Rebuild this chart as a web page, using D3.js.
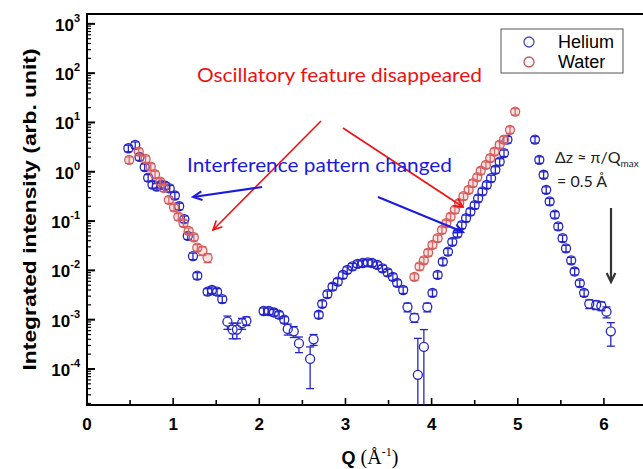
<!DOCTYPE html>
<html lang="en">
<head>
<meta charset="UTF-8">
<title>Integrated intensity vs Q</title>
<style>
  body{margin:0;background:#fff;}
  svg{display:block;}
  .lab{font-family:"Liberation Sans",Arial,sans-serif;font-weight:bold;font-size:17px;fill:#000;}
  .note{font-family:Lato,"Open Sans",sans-serif;}
</style>
</head>
<body>
<div id="chart"></div>
<script src="https://d3js.org/d3.v7.min.js"></script>
<script>
// helium (blue)
var heliumQ = [0.48,0.56,0.61,0.67,0.71,0.76,0.81,0.86,0.91,0.96,1.02,1.07,1.13,1.17,1.23,1.28,1.40,1.45,1.51,1.57,1.63,1.69,1.74,1.80,1.85,
  2.05,2.11,2.17,2.23,2.29,2.33,2.40,2.46,2.59,2.63,
  2.69,2.73,2.79,2.85,2.91,2.97,3.02,3.08,3.14,3.20,3.26,3.31,3.37,3.43,3.49,3.55,3.60,3.67,3.72,3.80,3.84,3.91,
  3.95,4.01,4.07,4.13,4.19,4.24,4.30,4.35,4.40,4.45,4.50,4.54,4.59,4.64,4.69,4.74,4.79,4.84,4.88,
  5.20,5.25,5.30,5.33,5.37,5.43,5.47,5.52,5.56,5.62,5.66,5.72,5.77,5.83,5.91,5.97,6.03,6.08];
var heliumI = [3.0,3.5,2.0,1.25,0.76,0.55,0.50,0.55,0.52,0.46,0.33,0.20,0.11,0.050,0.0195,0.0078,0.0037,0.0040,0.0037,0.0026,0.00091,0.00063,0.00063,0.00085,0.00095,
  0.0015,0.0015,0.0014,0.00126,0.0010,0.00065,0.00058,0.00033,0.00016,0.0004,
  0.00126,0.0021,0.0033,0.0047,0.0059,0.0081,0.0102,0.012,0.0135,0.0141,0.0145,0.0141,0.0129,0.011,0.0091,0.0074,0.0056,0.0040,0.0018,0.0011,0.000076,0.00028,
  0.0018,0.0035,0.0081,0.015,0.024,0.038,0.056,0.083,0.115,0.155,0.21,0.29,0.40,0.54,0.74,1.1,1.6,2.4,4.5,
  4.5,1.75,0.87,0.43,0.25,0.135,0.078,0.045,0.028,0.016,0.0095,0.0055,0.0035,0.0021,0.0020,0.0019,0.00145,0.00058];
// relative error
var heliumErr = [0.15,0.15,0.15,0.15,0.15,0.15,0.15,0.15,0.15,0.15,0.15,0.15,0.15,0.15,0.15,0.15,0.15,0.15,0.15,0.15,0.3,0.35,0.35,0.25,0.2,
  0.15,0.15,0.15,0.15,0.15,0.25,0.25,0.35,0.75,0.25,
  0.15,0.15,0.15,0.15,0.15,0.15,0.15,0.15,0.15,0.15,0.15,0.15,0.15,0.15,0.15,0.15,0.15,0.15,0.2,0.2,4.5,1.25,
  0.2,0.15,0.15,0.15,0.15,0.15,0.15,0.15,0.15,0.15,0.15,0.15,0.15,0.15,0.15,0.15,0.15,0.15,0.15,
  0.15,0.15,0.15,0.15,0.15,0.15,0.15,0.15,0.15,0.15,0.15,0.15,0.15,0.2,0.2,0.2,0.25,0.5];

// water (red)
var waterQ = [0.49,0.60,0.68,0.74,0.79,0.85,0.89,0.95,1.01,1.06,1.12,1.18,1.24,1.28,1.34,1.40,
  3.80,3.86,3.91,3.96,4.01,4.07,4.12,4.17,4.22,4.27,4.32,4.37,4.43,4.48,4.53,4.57,4.63,4.68,4.73,4.79,4.84,4.91,4.97];
var waterI = [1.74,2.57,1.82,1.27,0.89,0.63,0.47,0.27,0.19,0.123,0.091,0.063,0.047,0.029,0.025,0.018,
  0.0074,0.012,0.016,0.023,0.033,0.045,0.066,0.091,0.123,0.17,0.23,0.32,0.43,0.59,0.78,1.05,1.38,1.9,2.57,3.55,4.5,7.1,16.6];
var waterErr = [0.15,0.15,0.15,0.15,0.15,0.15,0.15,0.15,0.15,0.15,0.15,0.15,0.15,0.15,0.2,0.2,
  0.15,0.15,0.15,0.15,0.15,0.15,0.15,0.15,0.15,0.15,0.15,0.15,0.15,0.15,0.15,0.15,0.15,0.15,0.15,0.15,0.15,0.15,0.15];

var xTicks = [0,1,2,3,4,5,6];
var yDecades = [-4,-3,-2,-1,0,1,2,3];

var W = 643, H = 469;
var pL = 87, pT = 14, pB = 405, pR = 647;
var yMin = 1.86e-5, yMax = 1585;

var svg = d3.select('#chart').append('svg').attr('width', W).attr('height', H);

var x = d3.scaleLinear().domain([0, 6.5]).range([pL, pR]);
var y = d3.scaleLog().domain([yMin, yMax]).range([pB, pT]);

// frame
svg.append('path')
  .attr('d', 'M' + pR + ',' + pT + 'H' + pL + 'V' + pB + 'H' + pR)
  .attr('fill', 'none').attr('stroke', '#000').attr('stroke-width', 2);

// y ticks (inward)
var minorY = [];
d3.range(-5, 4).forEach(function(e){
  for (var k = 2; k <= 9; k++) { var v = k * Math.pow(10, e); if (v > yMin && v < yMax) minorY.push(v); }
});
svg.append('g').selectAll('line').data(minorY).enter().append('line')
  .attr('x1', pL).attr('x2', pL + 4).attr('y1', function(d){return y(d);}).attr('y2', function(d){return y(d);})
  .attr('stroke', '#000').attr('stroke-width', 1.2);
svg.append('g').selectAll('line').data(yDecades).enter().append('line')
  .attr('x1', pL).attr('x2', pL + 8).attr('y1', function(d){return y(Math.pow(10,d));}).attr('y2', function(d){return y(Math.pow(10,d));})
  .attr('stroke', '#000').attr('stroke-width', 2);

var yl = svg.append('g').selectAll('text').data(yDecades).enter().append('text')
  .attr('class', 'lab').attr('text-anchor', 'end')
  .attr('x', 80).attr('y', function(d){return y(Math.pow(10,d)) + 7;});
yl.append('tspan').text('10');
yl.append('tspan').attr('dy', -9).style('font-size', '11px').text(function(d){return d;});

// x ticks (inward)
svg.append('g').selectAll('line').data(d3.range(0.5, 6.6, 0.5)).enter().append('line')
  .attr('x1', function(d){return x(d);}).attr('x2', function(d){return x(d);})
  .attr('y1', pB).attr('y2', function(d){return pB - (d % 1 === 0 ? 7 : 5);})
  .attr('stroke', '#000').attr('stroke-width', 1.6);
svg.append('g').selectAll('text').data(xTicks).enter().append('text')
  .attr('class', 'lab').attr('text-anchor', 'middle')
  .attr('x', function(d){return x(d);}).attr('y', 430).text(function(d){return d;});

// axis titles
svg.append('text').attr('class', 'lab').style('font-size', '18px')
  .attr('transform', 'translate(36,' + ((pT + pB) / 2) + ') rotate(-90)')
  .attr('text-anchor', 'middle').attr('textLength', 322).attr('lengthAdjust', 'spacingAndGlyphs')
  .text('Integrated intensity (arb. unit)');
var xt = svg.append('text').attr('x', 370).attr('y', 464).attr('text-anchor', 'middle')
  .style('font-family', '"Liberation Serif","Times New Roman",serif').style('font-size', '20px');
xt.append('tspan').style('font-family', '"Liberation Sans",Arial,sans-serif').style('font-weight', 'bold').style('font-size', '18px').text('Q ');
xt.append('tspan').text('(Å');
xt.append('tspan').attr('dy', -8).style('font-size', '12px').text('-1');
xt.append('tspan').attr('dy', 8).text(')');

// series
var r = 4.5;
function drawSeries(qs, vs, errs, color, fill) {
  var rows = qs.map(function(q, i){ return {q: q, v: vs[i], e: errs[i]}; });
  var g = svg.append('g').selectAll('g').data(rows).enter().append('g');
  g.each(function(d){
    var s = d3.select(this);
    var cx = x(d.q), cy = y(d.v);
    var lo = d.v * (1 - d.e), hi = d.v * (1 + d.e);
    var clipped = lo <= yMin;
    var yLo = clipped ? pB : y(lo), yHi = y(hi);
    var st = function(sel){ return sel.attr('stroke', color).attr('stroke-width', 1.3); };
    if (yLo - cy <= r && cy - yHi <= r) {
      st(s.append('line').attr('x1', cx).attr('x2', cx).attr('y1', yHi).attr('y2', yLo));
    } else {
      st(s.append('line').attr('x1', cx).attr('x2', cx).attr('y1', Math.min(yHi, cy - r)).attr('y2', cy - r));
      st(s.append('line').attr('x1', cx).attr('x2', cx).attr('y1', cy + r).attr('y2', Math.max(yLo, cy + r)));
    }
    st(s.append('line').attr('x1', cx - 4).attr('x2', cx + 4).attr('y1', yHi).attr('y2', yHi));
    if (!clipped) st(s.append('line').attr('x1', cx - 4).attr('x2', cx + 4).attr('y1', yLo).attr('y2', yLo));
    s.append('circle').attr('cx', cx).attr('cy', cy).attr('r', r)
      .attr('fill', fill).attr('stroke', color).attr('stroke-width', 1.3);
  });
}
drawSeries(heliumQ, heliumI, heliumErr, '#2424c8', 'none');
drawSeries(waterQ, waterI, waterErr, '#d45a5a', 'rgba(230,140,140,0.25)');

// legend
svg.append('rect').attr('x', 501).attr('y', 29).attr('width', 122).attr('height', 44)
  .attr('fill', '#fff').attr('stroke', '#555').attr('stroke-width', 1);
[['Helium', '#4a4ab4', 42], ['Water', '#c05a5a', 62]].forEach(function(l){
  svg.append('circle').attr('cx', 529).attr('cy', l[2]).attr('r', 5).attr('fill', 'none').attr('stroke', l[1]).attr('stroke-width', 1.3);
  svg.append('text').attr('x', 558).attr('y', l[2] + 6).style('font-family', '"Liberation Sans",Arial,sans-serif')
    .style('font-size', '18px').text(l[0]);
});

// arrows
function arrow(x1, y1, x2, y2, color, w) {
  var a = Math.atan2(y2 - y1, x2 - x1), len = 10, sp = 0.45;
  svg.append('line').attr('x1', x1).attr('y1', y1).attr('x2', x2).attr('y2', y2).attr('stroke', color).attr('stroke-width', w);
  svg.append('path').attr('d', 'M' + (x2 - len * Math.cos(a - sp)) + ',' + (y2 - len * Math.sin(a - sp)) +
      'L' + x2 + ',' + y2 + 'L' + (x2 - len * Math.cos(a + sp)) + ',' + (y2 - len * Math.sin(a + sp)))
    .attr('fill', 'none').attr('stroke', color).attr('stroke-width', w);
}
arrow(321, 121, 213, 230, '#ee1111', 1.6);
arrow(343, 128, 463, 207, '#ee1111', 1.6);
arrow(262, 187, 193, 197, '#1a1ae0', 2);
arrow(378, 197, 463, 232, '#1a1ae0', 2);
arrow(611, 208, 611, 282, '#333', 2.2);

// notes
svg.append('text').attr('class', 'note').attr('x', 197).attr('y', 82)
  .attr('textLength', 285).attr('lengthAdjust', 'spacingAndGlyphs')
  .style('font-size', '20px').style('fill', '#ee1111').text('Oscillatory feature disappeared');
svg.append('text').attr('class', 'note').attr('x', 187).attr('y', 172)
  .attr('textLength', 265).attr('lengthAdjust', 'spacingAndGlyphs')
  .style('font-size', '20px').style('fill', '#1a1ae0').text('Interference pattern changed');
var dz = svg.append('text').attr('class', 'note').attr('x', 555).attr('y', 163).style('font-size', '16px').style('fill', '#222');
dz.append('tspan').text('Δz ≈ π/Q');
dz.append('tspan').attr('dy', 4).style('font-size', '10px').text('max');
svg.append('text').attr('class', 'note').attr('x', 557).attr('y', 187).style('font-size', '16px').style('fill', '#222').text('= 0.5 Å');
</script>
</body>
</html>
